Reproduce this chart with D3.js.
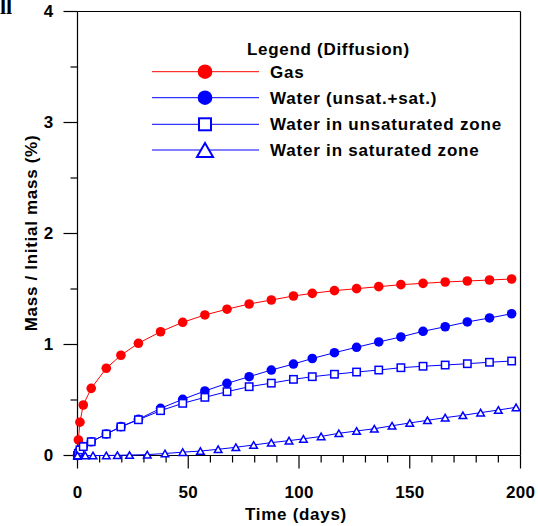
<!DOCTYPE html>
<html>
<head>
<meta charset="utf-8">
<script src="https://cdn.jsdelivr.net/npm/d3@7"></script>
<style>
  body { margin: 0; background: #fff; }
  svg { display: block; font-family: "Liberation Sans", Arial, sans-serif; font-weight: bold; }
</style>
</head>
<body>
<div id="chart"></div>
<script>
// time samples (days) for gas and total water
const timeDays = [0, 0.4, 1.1, 2.6, 6.2, 13, 19.6, 27.5, 37.5, 47.5, 57.5, 67.5, 77.5, 87.5, 97.5,
    106, 116, 126, 136, 146, 156, 166, 176, 186, 196];
const gasMass = [0, 0.14, 0.3, 0.455, 0.605, 0.786, 0.903, 1.011, 1.115, 1.2, 1.266, 1.318, 1.365, 1.401, 1.437,
    1.461, 1.485, 1.503, 1.521, 1.539, 1.551, 1.563, 1.572, 1.581, 1.59];
const waterTotalMass = [0, 0.02, 0.05, 0.08, 0.124, 0.194, 0.26, 0.326, 0.425, 0.506, 0.581, 0.65, 0.71, 0.77, 0.824,
    0.874, 0.926, 0.975, 1.023, 1.068, 1.119, 1.16, 1.203, 1.239, 1.277];
const waterUnsatMass = [0, 0.02, 0.05, 0.08, 0.124, 0.193, 0.258, 0.322, 0.404, 0.47, 0.524, 0.575, 0.62, 0.652, 0.686,
    0.71, 0.732, 0.752, 0.77, 0.791, 0.804, 0.815, 0.827, 0.84, 0.851];
// saturated zone has its own time samples
const satDays = [0, 3.5, 7, 13, 18, 23.5, 31.5, 39.5, 47.5, 55.5, 63.5, 71.5, 79.5, 87.5, 95.5,
    102, 110, 118, 126, 134, 142, 150, 158, 166, 174, 182, 190, 198];
const waterSatMass = [0, 0, 0, 0, 0.002, 0.004, 0.008, 0.018, 0.03, 0.04, 0.056, 0.074, 0.095, 0.116, 0.134,
    0.15, 0.172, 0.2, 0.221, 0.241, 0.268, 0.293, 0.317, 0.341, 0.362, 0.386, 0.41, 0.434];

const xTicks = [0, 50, 100, 150, 200];
const xMinorTicks = d3.range(10, 200, 10).filter(d => d % 50 !== 0);
const yTicks = [0, 1, 2, 3, 4];
const yMinorTicks = [0.5, 1.5, 2.5, 3.5];

const legendTitle = "Legend (Diffusion)";
const seriesNames = ["Gas", "Water (unsat.+sat.)", "Water in unsaturated zone", "Water in saturated zone"];

const RED = "#ff0000", BLUE = "#0000ff";

const width = 538, height = 526;
const svg = d3.select("#chart").append("svg")
    .attr("width", width)
    .attr("height", height);

const xScale = d3.scaleLinear().domain([0, 200]).range([77.5, 520.5]);
const yScale = d3.scaleLinear().domain([0, 4]).range([455.5, 11.5]);

const series = [
    {name: seriesNames[0], x: timeDays, y: gasMass, color: RED, marker: "dot"},
    {name: seriesNames[1], x: timeDays, y: waterTotalMass, color: BLUE, marker: "dot"},
    {name: seriesNames[2], x: timeDays, y: waterUnsatMass, color: BLUE, marker: "square"},
    {name: seriesNames[3], x: satDays, y: waterSatMass, color: BLUE, marker: "triangle"}
];

// panel letter, clipped at the top edge as in the source figure
svg.append("text")
    .attr("x", 0).attr("y", 14)
    .style("font-family", "'Liberation Serif', 'Times New Roman', serif")
    .style("font-size", "22px")
    .text("ll");

// frame
svg.append("line")
    .attr("x1", xScale(0)).attr("x2", xScale(200))
    .attr("y1", yScale(4)).attr("y2", yScale(4))
    .attr("stroke", "#000").attr("stroke-width", 1.2);
svg.append("line")
    .attr("x1", xScale(200)).attr("x2", xScale(200))
    .attr("y1", yScale(4)).attr("y2", yScale(0))
    .attr("stroke", "#000").attr("stroke-width", 1.2);

// axes
svg.append("g")
    .attr("transform", "translate(0," + yScale(0) + ")")
    .call(d3.axisBottom(xScale).tickValues(xTicks).tickSize(13).tickSizeOuter(0).tickPadding(17)
        .tickFormat(d3.format("d")).offset(0));
svg.append("g")
    .attr("transform", "translate(0," + yScale(0) + ")")
    .call(d3.axisBottom(xScale).tickValues(xMinorTicks).tickSize(7).tickSizeOuter(0).tickFormat("").offset(0))
    .select(".domain").remove();

svg.append("g")
    .attr("transform", "translate(" + xScale(0) + ",0)")
    .call(d3.axisLeft(yScale).tickValues(yTicks).tickSize(14).tickSizeOuter(0).tickPadding(10)
        .tickFormat(d3.format("d")).offset(0));
svg.append("g")
    .attr("transform", "translate(" + xScale(0) + ",0)")
    .call(d3.axisLeft(yScale).tickValues(yMinorTicks).tickSize(7).tickSizeOuter(0).tickFormat("").offset(0))
    .select(".domain").remove();

svg.selectAll(".domain, .tick line").attr("stroke", "#000").attr("stroke-width", 1.2);
svg.selectAll(".tick text")
    .attr("fill", "#000")
    .style("font-family", "'Liberation Sans', Arial, sans-serif")
    .style("font-weight", "bold")
    .style("font-size", "17px")
    .style("letter-spacing", "0.3px");

// axis titles
svg.append("text")
    .attr("x", 296).attr("y", 520)
    .attr("text-anchor", "middle")
    .style("font-size", "17px").style("letter-spacing", "0.7px")
    .text("Time (days)");
svg.append("text")
    .attr("transform", "translate(37,233) rotate(-90)")
    .attr("text-anchor", "middle")
    .style("font-size", "17px").style("letter-spacing", "0.7px")
    .text("Mass / Initial mass (%)");

// markers
function drawMarker(g, type, color, size, sw) {
    if (type === "dot") {
        g.append("circle").attr("r", size).attr("fill", color);
    } else if (type === "square") {
        g.append("rect")
            .attr("x", -size).attr("y", -size)
            .attr("width", size * 2).attr("height", size * 2)
            .attr("fill", "#fff").attr("stroke", color).attr("stroke-width", sw);
    } else {
        const w = size * 1.15, h = size;
        g.append("path")
            .attr("d", "M0," + (-h) + "L" + w + "," + h + "L" + (-w) + "," + h + "Z")
            .attr("fill", "#fff").attr("stroke", color).attr("stroke-width", sw);
    }
}

const plotG = svg.append("g");
series.forEach(s => {
    const pts = s.x.map((d, i) => [d, s.y[i]]);
    plotG.append("path")
        .datum(pts)
        .attr("fill", "none")
        .attr("stroke", s.color)
        .attr("stroke-width", 1)
        .attr("d", d3.line().x(d => xScale(d[0])).y(d => yScale(d[1])));
    const size = s.marker === "dot" ? 4.8 : (s.marker === "square" ? 3.7 : 3.3);
    pts.forEach(p => {
        const g = plotG.append("g")
            .attr("transform", "translate(" + xScale(p[0]) + "," + yScale(p[1]) + ")");
        drawMarker(g, s.marker, s.color, size, 1.5);
    });
});

// legend
const legendG = svg.append("g");
legendG.append("text")
    .attr("x", 247).attr("y", 55)
    .style("font-size", "17px").style("letter-spacing", "0.7px")
    .text(legendTitle);
const legendRows = [71.7, 97.7, 124.3, 150];
series.forEach((s, i) => {
    const y = legendRows[i];
    legendG.append("line")
        .attr("x1", 152).attr("x2", 259)
        .attr("y1", y).attr("y2", y)
        .attr("stroke", s.color).attr("stroke-width", 1);
    const g = legendG.append("g").attr("transform", "translate(205," + y + ")");
    const size = s.marker === "dot" ? 7.3 : (s.marker === "square" ? 6 : 7);
    drawMarker(g, s.marker, s.color, size, 2);
    legendG.append("text")
        .attr("x", 270).attr("y", y)
        .attr("dy", "0.35em")
        .style("font-size", "17px").style("letter-spacing", "0.8px")
        .text(s.name);
});
</script>
</body>
</html>
